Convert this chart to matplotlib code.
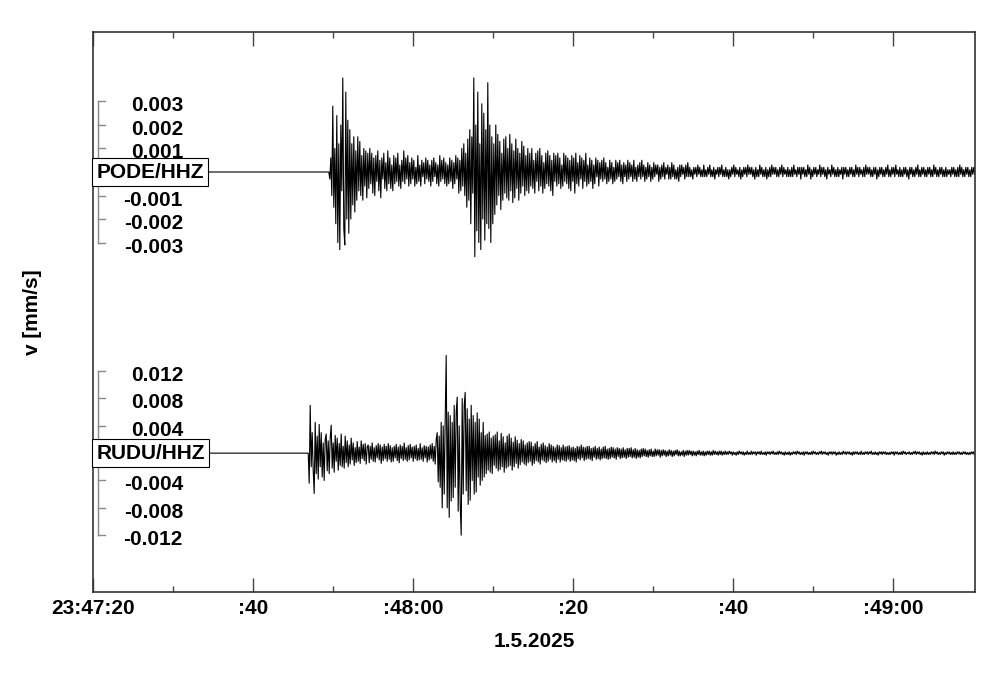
import numpy as np
import matplotlib
matplotlib.use('Agg')
import matplotlib.pyplot as plt

plt.rcParams['font.family'] = ['Liberation Sans', 'DejaVu Sans']

# Seismogram data (seconds after 23:47:20, amplitudes in 1e-4 mm/s)
dt = 0.125
t_end = 110.25
tick_pos = [0, 20, 40, 60, 80, 100]
tick_labels = ['23:47:20', ':40', ':48:00', ':20', ':40', ':49:00']

pode_name = 'PODE/HHZ'
pode_onset = 29.6
pode = [
    -3, 6, -10, 28, -15, 10, -22, 24, -30, 12, -33, 20, -8, 40, -24, -31, 34, -20, 22, -26,
    18, -20, 12, -14, 15, -17, 9, -12, 15, -8, 13, -10, 7, -12, 10, -6, 9, -11, 8, -7,
    10, -5, 8, -9, 6, -10, 7, -4, 9, -8, 5, -11, 6, -3, 8, -7, 4, -8, 9, -5,
    6, -7, 3, -8, 7, -5, 6, -4, 8, -6, 3, -7, 5, -4, 9, -5, 6, -3, 7, -6,
    4, -5, 6, -3, 5, -6, 2, -5, 7, -4, 3, -6, 5, -2, 4, -5, 6, -3, 5, -4,
    3, -6, 5, -4, 6, -2, 4, -5, 3, -6, 7, -4, 5, -3, 6, -5, 4, -6, 3, -5,
    6, -4, 5, -7, 4, -5, 7, -3, 6, -9, 5, -8, 10, -6, 12, -10, 8, -15, 14, -12,
    18, -22, 15, -9, 40, -36, 20, -25, 34, -30, 12, -33, 29, -20, 25, -29, 18, -22, 38, -24,
    20, -30, 15, -22, 12, -18, 20, -14, 16, -10, 13, -16, 8, -12, 14, -9, 15, -11, 10, -12,
    16, -8, 12, -13, 9, -11, 14, -7, 10, -12, 8, -9, 13, -6, 11, -10, 7, -8, 10, -9,
    8, -6, 10, -7, 5, -9, 8, -4, 9, -8, 10, -6, 7, -9, 4, -7, 8, -5, 9, -6,
    7, -8, 5, -10, 8, -4, 7, -6, 8, -5, 6, -7, 3, -6, 8, -4, 7, -5, 6, -7,
    5, -8, 7, -4, 6, -9, 8, -5, 4, -6, 7, -3, 6, -7, 5, -4, 8, -6, 3, -5,
    6, -4, 5, -7, 3, -5, 6, -2, 5, -6, 4, -3, 5, -4, 6, -3, 4, -5, 2, -4,
    5, -3, 4, -5, 2, -4, 5, -3, 4, -2, 5, -4, 3, -5, 4, -2, 3, -4, 5, -3,
    4, -2, 3, -4, 5, -3, 2, -4, 3, -2, 4, -3, 5, -2, 3, -4, 2, -3, 4, -2,
    3, -4, 2, -3, 4, -2, 3, -1, 3, -4, 2, -3, 3, -2, 4, -3, 2, -1, 3, -3,
    2, -3, 4, -2, 3, -3, 1, -3, 2, -4, 3, -2, 3, -1, 2, -3, 3, -2, 4, -2,
    2, -2, 1, -3, 2, -1, 2, -2, 3, -1, 2, -2, 1, -2, 3, -2, 1, -2, 2, -1,
    3, -2, 1, -2, 2, -3, 1, -1, 2, -2, 2, -1, 3, -2, 1, -2, 2, -2, 1, -3,
    1, -2, 2, -1, 3, -2, 2, -1, 1, -2, 2, -3, 1, -2, 2, -1, 2, -2, 3, -1,
    2, -1, 2, -2, 1, -3, 2, -2, 1, -2, 3, -1, 2, -2, 1, -2, 2, -3, 1, -2,
    2, -2, 3, -1, 2, -1, 2, -2, 1, -2, 2, -1, 3, -2, 2, -1, 1, -2, 2, -2,
    1, -2, 2, -2, 3, -1, 1, -2, 2, -1, 2, -3, 2, -1, 2, -2, 1, -2, 3, -1,
    2, -3, 1, -2, 2, -1, 2, -2, 1, -1, 3, -2, 2, -1, 2, -2, 1, -3, 2, -1,
    1, -2, 3, -1, 2, -2, 1, -2, 2, -2, 1, -1, 2, -3, 2, -1, 2, -2, 1, -2,
    2, -1, 2, -2, 1, -2, 3, -1, 2, -2, 2, -1, 1, -2, 2, -2, 3, -1, 2, -1,
    2, -2, 1, -2, 2, -1, 2, -3, 1, -2, 2, -1, 2, -2, 1, -2, 2, -1, 3, -2,
    1, -2, 2, -1, 2, -2, 3, -1, 1, -2, 2, -2, 1, -2, 2, -1, 2, -2, 1, -3,
    2, -1, 2, -2, 1, -2, 2, -1, 3, -2, 1, -2, 2, -1, 2, -2, 1, -2, 2, -1,
    2, -2, 1, -2, 3, -1, 2, -2, 1, -2, 2, -1, 2, -2, 1, -2, 2, -2, 1, -1,
    1, -2, 2, -1, 2, -2, 1, -2, 2, -2, 3, -1, 2, -2, 1, -2, 2, -1, 2, -2,
    1, -2, 2, -1, 2, -1,
]
pode_ticks = [0.003, 0.002, 0.001, -0.001, -0.002, -0.003]

rudu_name = 'RUDU/HHZ'
rudu_onset = 26.9
rudu = [
    0, -44, 70, -20, 30, -25, -59, 45, -30, 25, -38, 42, -20, 30, -35, 15, -40, 20, 28, -26,
    18, -30, 22, 41, -22, 15, -28, 26, -12, 22, -25, 14, -18, 28, -20, 10, -22, 25, -14, 18,
    -20, 12, -16, 22, -10, 15, -18, 8, -14, 17, -12, 9, -15, 18, -8, 13, -11, 14, -16, 9,
    12, -14, 10, -9, 15, -12, 8, -13, 11, -7, 14, -10, 12, -15, 9, -11, 13, -8, 10, -12,
    14, -9, 11, -13, 8, -12, 10, -7, 13, -11, 9, -14, 12, -8, 10, -11, 15, -9, 8, -12,
    11, -10, 13, -7, 9, -12, 10, -8, 12, -11, 7, -10, 14, -9, 8, -12, 11, -7, 10, -13,
    9, -10, 12, -8, 14, -12, 10, -16, 20, 30, -42, 25, -50, 45, -80, 40, -60, 50, 143, -80,
    60, -94, 55, -70, 45, -65, 70, -50, 60, 82, -85, 40, -75, -120, 80, -60, 70, 89, -55, 65,
    -75, 50, -69, 70, -40, 55, -60, 45, -57, 59, -35, 50, -47, 30, -40, 45, -35, 26, -30, 28,
    -25, 31, -28, 22, -30, 25, -18, 27, -22, 31, -26, 18, -24, 29, -20, 24, -28, 15, -22, 25,
    -20, 28, -18, 22, -25, 16, -20, 24, -15, 19, -22, 14, -17, 20, -13, 18, -16, 12, -18, 15,
    -14, 17, -12, 16, -18, 10, -15, 14, -11, 17, -13, 9, -16, 13, -10, 15, -12, 11, -14, 9,
    -12, 14, -9, 12, -13, 10, -11, 8, -14, 12, -9, 11, -13, 8, -10, 12, -11, 9, -12, 10,
    -9, 11, -12, 8, -10, 9, -11, 7, -13, 10, -8, 9, -10, 12, -7, 9, -11, 8, -9, 10,
    -8, 10, -9, 7, -11, 8, -6, 10, -9, 7, -8, 9, -10, 6, -8, 9, -7, 10, -8, 6,
    -9, 7, -8, 9, -6, 8, -7, 6, -9, 8, -5, 7, -8, 6, -7, 8, -6, 5, -8, 7,
    -6, 7, -5, 8, -7, 5, -6, 7, -8, 5, -6, 4, -7, 6, -5, 7, -4, 6, -5, 4,
    -6, 5, -4, 6, -5, 3, -5, 6, -4, 5, -3, 5, -6, 4, -4, 5, -3, 4, -5, 3,
    -4, 5, -3, 4, -5, 3, -4, 4, -2, 5, -4, 3, -4, 2, -3, 4, -5, 3, -3, 4,
    -3, 4, -2, 3, -4, 3, -3, 2, -4, 3, -2, 4, -3, 2, -3, 3, -4, 2, -3, 3,
    -2, 3, -3, 2, -3, 4, -2, 3, -2, 2, -3, 3, -2, 3, -3, 2, -2, 3, -2, 2,
    -2, 3, -1, 2, -3, 2, -2, 1, -3, 2, -2, 3, -1, 2, -2, 2, -3, 1, -2, 3,
    -2, 1, -2, 3, -2, 2, -1, 2, -3, 2, -1, 2, -2, 3, -2, 1, -2, 2, -3, 2,
    -1, 2, -2, 2, -1, 3, -2, 1, -2, 2, -2, 3, -1, 2, -2, 1, -3, 2, -2, 1,
    -2, 2, -3, 1, -2, 2, -1, 2, -2, 3, -1, 2, -2, 1, -2, 2, -3, 2, -1, 2,
    -2, 1, -2, 2, -2, 3, -1, 2, -2, 1, -2, 2, -1, 3, -2, 2, -1, 2, -2, 1,
    -3, 2, -1, 2, -2, 2, -1, 2, -3, 1, -2, 2, -2, 1, -2, 3, -1, 2, -2, 2,
    -1, 2, -2, 1, -3, 2, -2, 2, -1, 2, -2, 1, -2, 3, -2, 1, -2, 2, -1, 2,
    -2, 2, -1, 3, -2, 1, -2, 2, -2, 1, -3, 2, -1, 2, -2, 2, -1, 2, -2, 1,
    -2, 1, -2, 2, -1, 2, -3, 2, -1, 2, -2, 1, -2, 2, -2, 3, -1, 2, -2, 1,
    -1, 2, -2, 1, -2, 2, -1, 3, -2, 2, -1, 2, -2, 1, -3, 2, -2, 1, -2, 2,
    -2, 1, -2, 2, -1, 2, -2, 3, -1, 2, -2, 1, -2, 2, -1, 2, -3, 1, -2, 2,
    -1, 2, -2, 1, -2, 2, -2, 1, -2, 2, -1, 2, -2, 1, -2, 2, -1, 2, -2, 1,
    -2, 1, -2, 2, -1, 2, -2, 1,
]
rudu_ticks = [0.012, 0.008, 0.004, -0.004, -0.008, -0.012]

# layout of traces in axes units (0..1): baseline and gain per mm/s
traces = [
    (pode_name, pode_onset, pode, pode_ticks, 0.75, 42.0),
    (rudu_name, rudu_onset, rudu, rudu_ticks, 0.248, 12.2),
]

fig = plt.figure(figsize=(10, 6.78), dpi=100)
ax = fig.add_axes([0.093, 0.1268, 0.882, 0.826])

for name, onset, vals, ticks, base, gain in traces:
    v = np.array(vals) * 1e-4
    t = onset + dt * np.arange(len(v))
    t = np.concatenate([[0.0, onset - dt], t])
    v = np.concatenate([[0.0, 0.0], v])
    ax.plot(t, base + v * gain, color='black', lw=0.8)

    # amplitude scale bracket
    xs = 0.6
    top = base + max(ticks) * gain
    bot = base + min(ticks) * gain
    ax.plot([xs, xs], [bot, top], color='#888888', lw=1.0)
    for tk in ticks:
        y = base + tk * gain
        ax.plot([xs, xs + 0.9], [y, y], color='#888888', lw=1.0)
        ax.text(11.25, y - 0.008, '%.3f' % tk,
                ha='right', va='center', fontsize=15, fontweight='bold')

    ax.text(0.45, base, name, ha='left', va='center', fontsize=15, fontweight='bold',
            bbox=dict(boxstyle='square,pad=0.2', fc='white', ec='black', lw=0.8),
            zorder=5)

ax.set_xlim(0, t_end)
ax.set_ylim(0, 1)
ax.set_yticks([])
ax.set_xticks(tick_pos)
ax.set_xticklabels(tick_labels, fontsize=15, fontweight='bold')
ax.set_xticks(np.arange(10, 110, 20), minor=True)
ax.tick_params(axis='x', which='major', direction='in', length=10, width=1,
               top=True, color='#444444', pad=5)
ax.tick_params(axis='x', which='minor', direction='in', length=4, width=1,
               top=True, color='#444444')
for s in ax.spines.values():
    s.set_color('#333333')
    s.set_linewidth(1.2)

ax.set_xlabel('1.5.2025', fontsize=15, fontweight='bold', labelpad=10)
ax.set_ylabel('v [mm/s]', fontsize=15, fontweight='bold')
ax.yaxis.set_label_coords(-0.058, 0.5)

fig.savefig('out.png', dpi=100)
